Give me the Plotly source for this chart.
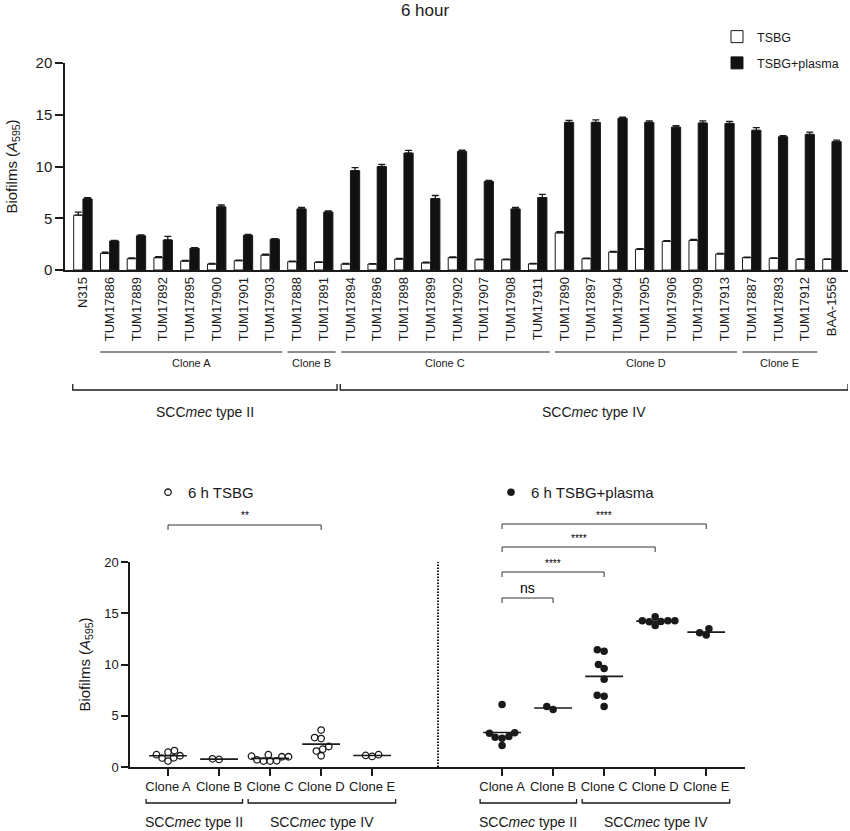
import plotly.graph_objects as go
import math

# ---------------- data ----------------
strains = ["N315", "TUM17886", "TUM17889", "TUM17892", "TUM17895", "TUM17900", "TUM17901",
           "TUM17903", "TUM17888", "TUM17891", "TUM17894", "TUM17896", "TUM17898", "TUM17899",
           "TUM17902", "TUM17907", "TUM17908", "TUM17911", "TUM17890", "TUM17897", "TUM17904",
           "TUM17905", "TUM17906", "TUM17909", "TUM17913", "TUM17887", "TUM17893", "TUM17912",
           "BAA-1556"]
tsbg = [5.3, 1.6, 1.1, 1.2, 0.87, 0.58, 0.9, 1.45, 0.8, 0.74, 0.58, 0.58, 1.06, 0.7, 1.2,
        1.0, 1.0, 0.6, 3.6, 1.1, 1.74, 2.0, 2.77, 2.87, 1.55, 1.2, 1.13, 1.03, 1.03]
tsbg_err = [0.3, 0.12, 0.08, 0.08, 0.06, 0.05, 0.06, 0.08, 0.05, 0.05, 0.05, 0.04, 0.06, 0.05,
            0.06, 0.05, 0.05, 0.04, 0.1, 0.05, 0.06, 0.07, 0.07, 0.08, 0.06, 0.05, 0.05, 0.05, 0.05]
plasma = [6.87, 2.8, 3.3, 2.9, 2.1, 6.1, 3.35, 2.97, 5.9, 5.6, 9.6, 10.0, 11.3, 6.9, 11.45,
          8.55, 5.9, 7.0, 14.26, 14.26, 14.65, 14.26, 13.8, 14.2, 14.16, 13.5, 12.87, 13.1, 12.4]
plasma_err = [0.12, 0.06, 0.1, 0.35, 0.06, 0.18, 0.1, 0.06, 0.15, 0.1, 0.3, 0.2, 0.25, 0.3,
              0.12, 0.1, 0.15, 0.3, 0.2, 0.25, 0.12, 0.15, 0.15, 0.2, 0.2, 0.25, 0.12, 0.22, 0.15]

clone_names = ["Clone A", "Clone B", "Clone C", "Clone D", "Clone E"]
clone_strains = [
    ["TUM17886", "TUM17889", "TUM17892", "TUM17895", "TUM17900", "TUM17901", "TUM17903"],
    ["TUM17888", "TUM17891"],
    ["TUM17894", "TUM17896", "TUM17898", "TUM17899", "TUM17902", "TUM17907", "TUM17908", "TUM17911"],
    ["TUM17890", "TUM17897", "TUM17904", "TUM17905", "TUM17906", "TUM17909", "TUM17913"],
    ["TUM17887", "TUM17893", "TUM17912"],
]
type_labels = ["SCC<i>mec</i> type II", "SCC<i>mec</i> type IV"]
type_strains = [strains[:10], strains[10:]]
type_clones = [["Clone A", "Clone B"], ["Clone C", "Clone D", "Clone E"]]

sig_left = [("Clone A", "Clone D", "**")]
sig_right = [("Clone A", "Clone B", "ns"), ("Clone A", "Clone C", "****"),
             ("Clone A", "Clone D", "****"), ("Clone A", "Clone E", "****")]

# ---------------- helpers ----------------
W, H = 850, 831
def fx(px):
    return px / W
def fy(px):
    return 1 - px / H

FONT = "Liberation Sans, Arial, sans-serif"
INK = "#1a1a1a"

def swarm(values, d_px, y_ppu, x_ppu):
    """Classic beeswarm: each point goes to the free x closest to the centre."""
    order = sorted(range(len(values)), key=lambda i: values[i])
    placed = []
    offs = [0.0] * len(values)
    for i in order:
        y = values[i] * y_ppu
        blocked = []
        for a, b in placed:
            dy = abs(y - b)
            if dy < d_px:
                w = math.sqrt(d_px ** 2 - dy ** 2)
                blocked.append((a - w, a + w))
        cands = [0.0] + [e for iv in blocked for e in iv]
        cands.sort(key=lambda c: (abs(c), c))
        x = 0.0
        for c in cands:
            if all(not (lo + 1e-6 < c < hi - 1e-6) for lo, hi in blocked):
                x = c
                break
        placed.append((x, y))
        offs[i] = x / x_ppu
    return offs

fig = go.Figure()

# ---------------- top bar chart ----------------
n = len(strains)
fig.add_trace(go.Bar(
    x=strains, y=tsbg, name="TSBG", xaxis="x", yaxis="y",
    marker=dict(color="white", line=dict(color=INK, width=1)),
    error_y=dict(type="data", array=tsbg_err, arrayminus=[0] * n, symmetric=False,
                 color=INK, thickness=1.3, width=3.5),
    legend="legend", legendgroup="a",
))
fig.add_trace(go.Bar(
    x=strains, y=plasma, name="TSBG+plasma", xaxis="x", yaxis="y",
    marker=dict(color="#111111", line=dict(color=INK, width=1)),
    error_y=dict(type="data", array=plasma_err, arrayminus=[0] * n, symmetric=False,
                 color=INK, thickness=1.3, width=3.5),
    legend="legend", legendgroup="b",
))

shapes = []
annotations = []

idx = {s: i for i, s in enumerate(strains)}
# clone underlines
for name, members in zip(clone_names, clone_strains):
    a, b = idx[members[0]], idx[members[-1]]
    shapes.append(dict(type="line", xref="x", yref="paper", x0=a - 0.35, x1=b + 0.45,
                       y0=fy(352), y1=fy(352), line=dict(color=INK, width=1)))
    annotations.append(dict(xref="x", yref="paper", x=(a + b) / 2 + 0.05, y=fy(363),
                            text=name, showarrow=False, yanchor="middle",
                            font=dict(size=11, family=FONT, color=INK)))
# type brackets (top)
for lab, members, ext in zip(type_labels, type_strains, [0.5, 0.6]):
    a, b = idx[members[0]] - 0.38, idx[members[-1]] + ext
    yb, yt = fy(390), fy(384)
    shapes.append(dict(type="path", xref="x", yref="paper",
                       path=f"M{a},{yt} L{a},{yb} L{b},{yb} L{b},{yt}",
                       line=dict(color=INK, width=1.3)))
    annotations.append(dict(xref="x", yref="paper", x=(a + b) / 2, y=fy(412), text=lab,
                            showarrow=False, yanchor="middle",
                            font=dict(size=14, family=FONT, color=INK)))

# ---------------- bottom dot plots ----------------
val_tsbg = dict(zip(strains, tsbg))
val_plasma = dict(zip(strains, plasma))
Y_PPU = 10.25
X_PPU = 51.0

def dot_panel(xaxis, values_map, open_marker, legend_name, legend_id):
    xs, ys, lx, ly = [], [], [], []
    for ci, members in enumerate(clone_strains):
        vals = [values_map[s] for s in members]
        offs = swarm(vals, 6.6 if open_marker else 7.0, Y_PPU, X_PPU)
        xs += [ci + o for o in offs]
        ys += vals
        m = sum(vals) / len(vals)
        lx += [ci - 0.37, ci + 0.37, None]
        ly += [m, m, None]
    fig.add_trace(go.Scatter(x=lx, y=ly, mode="lines", xaxis=xaxis, yaxis="y3",
                             line=dict(color=INK, width=1.6), showlegend=False,
                             hoverinfo="skip"))
    if open_marker:
        mk = dict(symbol="circle-open", size=6.5, color=INK, line=dict(width=1.3, color=INK))
    else:
        mk = dict(symbol="circle", size=7.5, color=INK)
    fig.add_trace(go.Scatter(x=xs, y=ys, mode="markers", xaxis=xaxis, yaxis="y3",
                             marker=mk, name=legend_name, legend=legend_id,
                             cliponaxis=False))

dot_panel("x3", val_tsbg, True, "6 h TSBG", "legend2")
dot_panel("x4", val_plasma, False, "6 h TSBG+plasma", "legend3")

cpos = {c: i for i, c in enumerate(clone_names)}
# type brackets under bottom panels
for xr in ["x3", "x4"]:
    for lab, cl in zip(type_labels, type_clones):
        a, b = cpos[cl[0]] - 0.43, cpos[cl[-1]] + 0.46
        yb, yt = fy(803), fy(799)
        shapes.append(dict(type="path", xref=xr, yref="paper",
                           path=f"M{a},{yt} L{a},{yb} L{b},{yb} L{b},{yt}",
                           line=dict(color=INK, width=1.3)))
        annotations.append(dict(xref=xr, yref="paper", x=(a + b) / 2, y=fy(822), text=lab,
                                showarrow=False, yanchor="middle",
                                font=dict(size=14, family=FONT, color=INK)))

# significance brackets
def sig(xr, tests, levels):
    for (c1, c2, lab), (ly, ty) in zip(tests, levels):
        a, b = cpos[c1], cpos[c2]
        y0, y1 = fy(ly), fy(ly + 5)
        shapes.append(dict(type="path", xref=xr, yref="paper",
                           path=f"M{a},{y1} L{a},{y0} L{b},{y0} L{b},{y1}",
                           line=dict(color="#333333", width=1)))
        big = lab == "ns"
        annotations.append(dict(xref=xr, yref="paper", x=(a + b) / 2, y=fy(ty),
                                text=lab, showarrow=False, yanchor="middle",
                                font=dict(size=14 if big else 10, family=FONT, color="black")))

sig("x3", sig_left, [(525, 515)])
sig("x4", sig_right, [(598, 588), (572, 563), (547, 538), (524, 515)])

# dotted separator
shapes.append(dict(type="line", xref="x4 domain", yref="y3", x0=0, x1=0, y0=0, y1=20,
                   line=dict(color=INK, width=2, dash="1.5px,1.5px")))

axis_common = dict(showgrid=False, zeroline=False, showline=True, linecolor=INK,
                   linewidth=1.5, tickcolor=INK, tickwidth=1.5, automargin=False)

ytitle = "Biofilms (<i>A</i><sub>595</sub>)"

fig.update_layout(
    template="none",
    width=W, height=H,
    margin=dict(l=0, r=0, t=0, b=0, autoexpand=False),
    paper_bgcolor="white", plot_bgcolor="white",
    font=dict(family=FONT, color=INK),
    barmode="group", bargap=0.31, bargroupgap=0,
    title=dict(text="6 hour", x=0.5, xanchor="center", y=fy(10), yanchor="middle",
               font=dict(size=17, family=FONT, color=INK)),
    xaxis=dict(domain=[fx(65), fx(848)], anchor="y", type="category",
               range=[-0.67, 28.6], ticks="", tickangle=-90,
               tickfont=dict(size=13, family=FONT, color=INK), **axis_common),
    yaxis=dict(domain=[fy(270), fy(63)], anchor="x", range=[0, 20],
               tickvals=[0, 5, 10, 15, 20], ticks="outside", ticklen=8,
               tickfont=dict(size=15, family=FONT, color=INK),
               title=dict(text=ytitle, font=dict(size=15, family=FONT, color=INK), standoff=14),
               **axis_common),
    xaxis3=dict(domain=[fx(130), fx(438)], anchor="y3", range=[-0.745, 5.29],
                tickvals=list(range(len(clone_names))), ticktext=clone_names,
                ticks="outside", ticklen=7,
                tickfont=dict(size=13, family=FONT, color=INK), **axis_common),
    xaxis4=dict(domain=[fx(438), fx(745)], anchor="y3", range=[-1.255, 4.76],
                tickvals=list(range(len(clone_names))), ticktext=clone_names,
                ticks="outside", ticklen=7,
                tickfont=dict(size=13, family=FONT, color=INK), **axis_common),
    yaxis3=dict(domain=[fy(767), fy(562)], anchor="x3", range=[0, 20],
                tickvals=[0, 5, 10, 15, 20], ticks="outside", ticklen=7,
                tickfont=dict(size=13, family=FONT, color=INK),
                title=dict(text=ytitle, font=dict(size=15, family=FONT, color=INK), standoff=10),
                **axis_common),
    legend=dict(x=fx(717), y=fy(22), xanchor="left", yanchor="top",
                traceorder="grouped", tracegroupgap=7, bgcolor="rgba(0,0,0,0)",
                font=dict(size=12.5, family=FONT, color=INK)),
    legend2=dict(x=fx(148), y=fy(476), xanchor="left", yanchor="top",
                 bgcolor="rgba(0,0,0,0)", font=dict(size=15, family=FONT, color=INK)),
    legend3=dict(x=fx(491), y=fy(476), xanchor="left", yanchor="top",
                 bgcolor="rgba(0,0,0,0)", font=dict(size=15, family=FONT, color=INK)),
    shapes=shapes,
    annotations=annotations,
    showlegend=True,
)

fig.write_html(
    "out.html",
    config={"displayModeBar": False},
    post_script="document.body.style.margin='0';document.body.style.overflow='hidden';",
)
